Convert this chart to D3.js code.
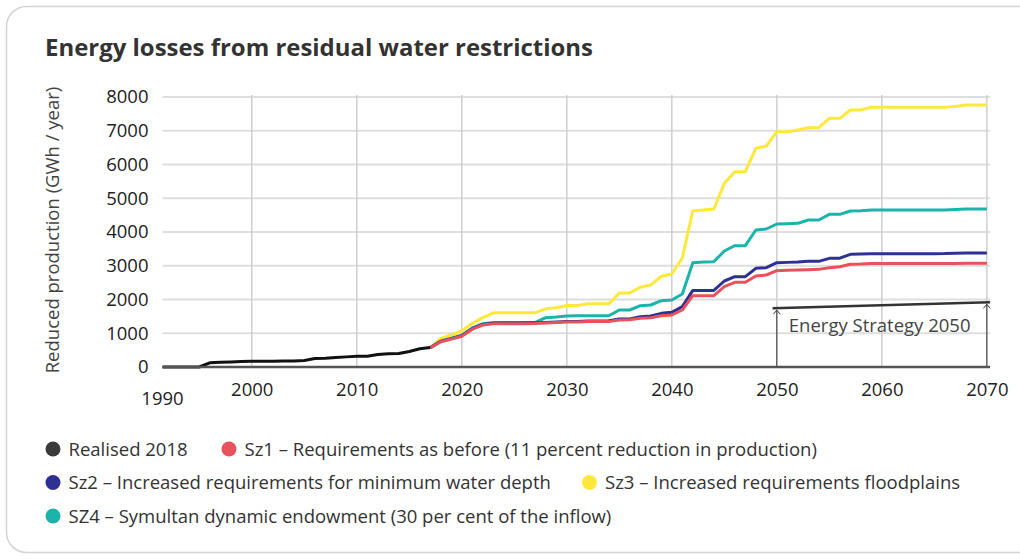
<!DOCTYPE html>
<html>
<head>
<meta charset="utf-8">
<script src="https://cdn.jsdelivr.net/npm/d3@7"></script>
<style>
  html, body { margin: 0; padding: 0; background: #fff; }
  svg { display: block; font-family: "Open Sans", "Noto Sans", sans-serif; }
</style>
</head>
<body>
<div class="container"></div>
<script>
'use strict';

// Realised production losses, 1991 - 2017.
var realisedYears = [1991, 1992, 1993, 1994, 1995, 1996, 1997, 1998, 1999, 2000, 2001, 2002, 2003, 2004,
  2005, 2006, 2007, 2008, 2009, 2010, 2011, 2012, 2013, 2014, 2015, 2016, 2017];
var realisedValues = [0, 0, 0, 0, 0, 125, 140, 150, 160, 168, 170, 172, 175, 180,
  195, 250, 262, 282, 300, 315, 320, 370, 390, 400, 460, 540, 575];

// Scenario years, 2017 - 2070.
var scenarioYears = [2017, 2018, 2019, 2020, 2021, 2022, 2023, 2024, 2025, 2026, 2027, 2028, 2029, 2030,
  2031, 2032, 2033, 2034, 2035, 2036, 2037, 2038, 2039, 2040, 2041, 2042, 2043, 2044,
  2045, 2046, 2047, 2048, 2049, 2050, 2051, 2052, 2053, 2054, 2055, 2056, 2057, 2058,
  2059, 2060, 2061, 2062, 2063, 2064, 2065, 2066, 2067, 2068, 2069, 2070];

var sz1Values = [575, 750, 830, 910, 1120, 1244, 1280, 1285, 1285, 1285, 1290, 1305, 1315, 1330,
  1335, 1345, 1345, 1350, 1395, 1400, 1445, 1462, 1521, 1541, 1689, 2113, 2113, 2113,
  2380, 2509, 2509, 2696, 2726, 2854, 2864, 2874, 2884, 2893, 2943, 2972, 3042, 3050,
  3065, 3065, 3065, 3065, 3065, 3065, 3065, 3065, 3068, 3072, 3072, 3072];

var sz2Values = [575, 760, 840, 925, 1135, 1260, 1300, 1305, 1305, 1305, 1310, 1320, 1330, 1345,
  1350, 1360, 1365, 1373, 1422, 1425, 1491, 1511, 1590, 1620, 1788, 2270, 2270, 2270,
  2548, 2677, 2677, 2923, 2943, 3091, 3100, 3111, 3131, 3131, 3220, 3225, 3338, 3345,
  3358, 3358, 3358, 3358, 3358, 3358, 3358, 3360, 3370, 3378, 3378, 3378];

var sz3Values = [575, 850, 948, 1067, 1294, 1462, 1605, 1605, 1605, 1605, 1610, 1724, 1753, 1822,
  1822, 1871, 1871, 1871, 2195, 2195, 2363, 2432, 2688, 2756, 3230, 4632, 4655, 4681,
  5442, 5787, 5787, 6479, 6548, 6973, 6973, 7022, 7091, 7091, 7368, 7368, 7615, 7615,
  7694, 7694, 7694, 7694, 7694, 7694, 7694, 7694, 7720, 7763, 7763, 7763];

var sz4Values = [575, 770, 850, 940, 1160, 1285, 1320, 1320, 1320, 1320, 1320, 1462, 1480, 1511,
  1515, 1520, 1520, 1520, 1689, 1689, 1817, 1837, 1965, 1985, 2163, 3091, 3110, 3121,
  3437, 3595, 3595, 4059, 4089, 4237, 4245, 4257, 4356, 4356, 4523, 4523, 4622, 4630,
  4652, 4652, 4652, 4652, 4652, 4652, 4652, 4652, 4665, 4681, 4681, 4681];

// Energy Strategy 2050 target band.
var strategyYears = [2049.6, 2070.3];
var strategyValues = [1738, 1917];
var strategyArrowYears = [2050, 2070];
var strategyLabel = 'Energy Strategy 2050';

var yTicks = [0, 1000, 2000, 3000, 4000, 5000, 6000, 7000, 8000];
var xTicks = [2000, 2010, 2020, 2030, 2040, 2050, 2060, 2070];
var xFirstLabel = '1990';

var seriesNames = ['Realised 2018',
  'Sz1 \u2013 Requirements as before (11 percent reduction in production)',
  'Sz2 \u2013 Increased requirements for minimum water depth',
  'Sz3 \u2013 Increased requirements floodplains',
  'SZ4 \u2013 Symultan dynamic endowment (30 per cent of the inflow)'];
var seriesColors = ['#3a3a3a', '#e8525c', '#2e3192', '#ffe83c', '#1bb3aa'];

var title = 'Energy losses from residual water restrictions';
var yTitle = 'Reduced production (GWh / year)';

var width = 1020;
var height = 559;
var fontSize = 18.5;

//Create our SVG drawing surface.
var svg = d3.select('.container').append('svg')
  .attr('width', width)
  .attr('height', height);

// card outline
svg.append('rect')
  .attr('x', 6.5)
  .attr('y', 6.5)
  .attr('width', 1100)
  .attr('height', 546)
  .attr('rx', 20)
  .attr('fill', '#fff')
  .attr('stroke', '#d3d3d3')
  .attr('stroke-width', 1.5);

svg.append('text')
  .attr('x', 45)
  .attr('y', 56)
  .attr('fill', '#333')
  .attr('font-size', 24)
  .attr('font-weight', 700)
  .attr('textLength', 548)
  .attr('lengthAdjust', 'spacingAndGlyphs')
  .text(title);

var x = d3.scaleLinear().domain([1991.5, 2070.3]).range([162.5, 990]);
var y = d3.scaleLinear().domain([0, 8000]).range([367, 97]);

// grid
svg.append('g').selectAll('line').data(yTicks.slice(1)).join('line')
  .attr('x1', x.range()[0]).attr('x2', x.range()[1])
  .attr('y1', function(d) { return y(d); })
  .attr('y2', function(d) { return y(d); })
  .attr('stroke', '#dedede')
  .attr('stroke-width', 2);

svg.append('g').selectAll('line').data(xTicks).join('line')
  .attr('x1', function(d) { return x(d); })
  .attr('x2', function(d) { return x(d); })
  .attr('y1', y(8000) - 2).attr('y2', y(0))
  .attr('stroke', '#cfcfcf')
  .attr('stroke-width', 1.5);

// axes
var yAxis = svg.append('g')
  .attr('transform', 'translate(' + (x.range()[0] - 14) + ',0)')
  .call(d3.axisLeft(y).tickValues(yTicks).tickSize(0).tickPadding(0).tickFormat(d3.format('d')));
yAxis.select('.domain').remove();
yAxis.selectAll('text')
  .attr('font-size', fontSize)
  .attr('fill', '#222')
  .attr('font-family', '"Open Sans", sans-serif');

var xAxis = svg.append('g')
  .attr('transform', 'translate(0,' + y(0) + ')')
  .call(d3.axisBottom(x).tickValues(xTicks).tickSize(0).tickPadding(16).tickFormat(d3.format('d')));
xAxis.select('.domain').remove();
xAxis.selectAll('text')
  .attr('font-size', fontSize)
  .attr('fill', '#222')
  .attr('font-family', '"Open Sans", sans-serif');

svg.append('text')
  .attr('x', x(x.domain()[0]))
  .attr('y', y(0) + 38)
  .attr('text-anchor', 'middle')
  .attr('font-size', fontSize)
  .attr('fill', '#222')
  .text(xFirstLabel);

svg.append('text')
  .attr('transform', 'translate(59,' + ((y(0) + y(8000)) / 2 - 2) + ') rotate(-90)')
  .attr('text-anchor', 'middle')
  .attr('font-size', fontSize)
  .attr('fill', '#444')
  .text(yTitle);

// clip for lines
svg.append('clipPath').attr('id', 'plot-clip')
  .append('rect')
  .attr('x', x.range()[0]).attr('y', 80)
  .attr('width', x.range()[1] - x.range()[0]).attr('height', y(0) - 78);

var line = d3.line()
  .x(function(d) { return x(d[0]); })
  .y(function(d) { return y(d[1]); });

var plot = svg.append('g').attr('clip-path', 'url(#plot-clip)');

// Strategy band and arrows
plot.append('path')
  .datum(d3.zip(strategyYears, strategyValues))
  .attr('d', line)
  .attr('fill', 'none')
  .attr('stroke', '#333')
  .attr('stroke-width', 2.5);

var strategyY = d3.scaleLinear().domain(strategyYears).range(strategyValues);
strategyArrowYears.forEach(function(yr) {
  var ax = x(yr);
  var top = y(strategyY(yr)) + 2;
  svg.append('line')
    .attr('x1', ax).attr('x2', ax)
    .attr('y1', y(0)).attr('y2', top)
    .attr('stroke', '#333')
    .attr('stroke-width', 1);
  svg.append('path')
    .attr('d', 'M' + (ax - 3.5) + ',' + (top + 4) + 'L' + ax + ',' + top + 'L' + (ax + 3.5) + ',' + (top + 4))
    .attr('fill', 'none')
    .attr('stroke', '#333')
    .attr('stroke-width', 1);
});

svg.append('text')
  .attr('x', x(2050) + 12)
  .attr('y', 332)
  .attr('font-size', 18.5)
  .attr('fill', '#444')
  .text(strategyLabel);

// axis line
svg.append('line')
  .attr('x1', x.range()[0]).attr('x2', x.range()[1])
  .attr('y1', y(0)).attr('y2', y(0))
  .attr('stroke', '#555')
  .attr('stroke-width', 2.5);

// series lines, drawn back to front
var scenarios = [
  { values: sz3Values, color: seriesColors[3] },
  { values: sz4Values, color: seriesColors[4] },
  { values: sz2Values, color: seriesColors[2] },
  { values: sz1Values, color: seriesColors[1] }
];
scenarios.forEach(function(s) {
  plot.append('path')
    .datum(d3.zip(scenarioYears, s.values))
    .attr('d', line)
    .attr('fill', 'none')
    .attr('stroke', s.color)
    .attr('stroke-width', 3)
    .attr('stroke-linejoin', 'round');
});

plot.append('path')
  .datum(d3.zip(realisedYears, realisedValues))
  .attr('d', line)
  .attr('fill', 'none')
  .attr('stroke', '#111')
  .attr('stroke-width', 3)
  .attr('stroke-linejoin', 'round');

// legend
var legendPos = [[53, 449], [229, 449], [53, 482.5], [589.5, 482.5], [53, 516]];
var legend = svg.append('g').selectAll('g').data(seriesNames).join('g')
  .attr('transform', function(d, i) { return 'translate(' + legendPos[i][0] + ',' + legendPos[i][1] + ')'; });
legend.append('circle')
  .attr('r', 7.5)
  .attr('fill', function(d, i) { return seriesColors[i]; });
legend.append('text')
  .attr('x', 15.5)
  .attr('y', 6.5)
  .attr('font-size', fontSize)
  .attr('fill', '#333')
  .text(function(d) { return d; });
</script>
</body>
</html>
